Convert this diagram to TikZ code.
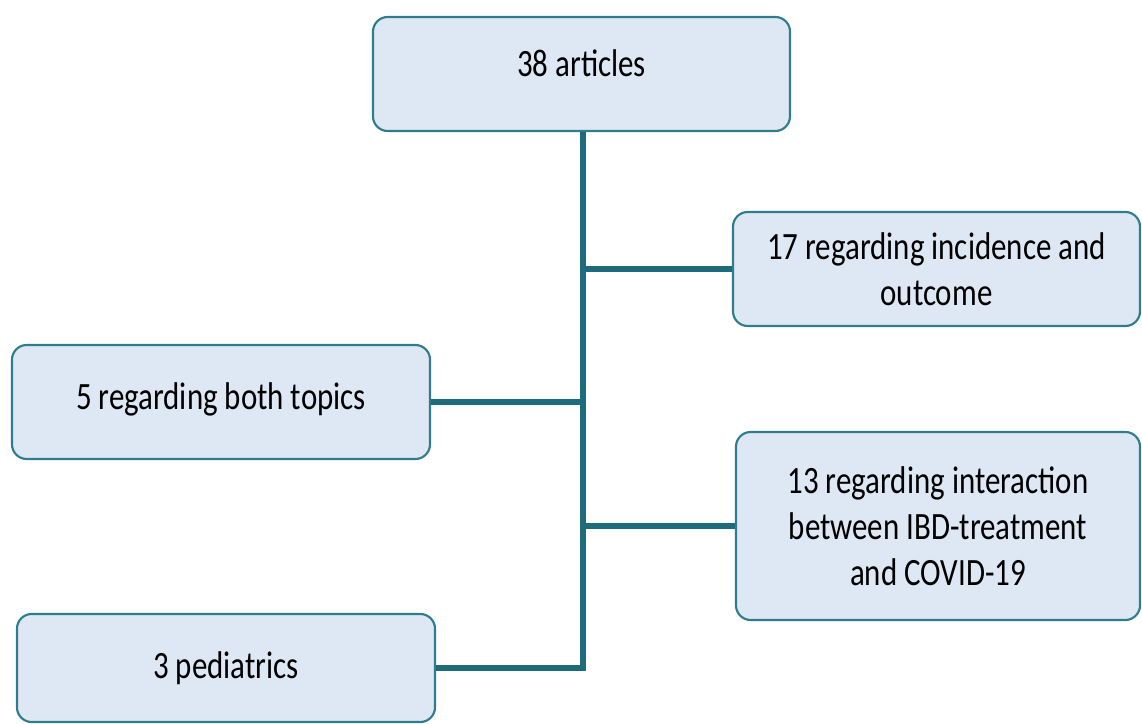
\documentclass[tikz,border=0pt]{standalone}
\usepackage{fontspec}
\setmainfont[FakeStretch=0.8]{Carlito}
\definecolor{boxfill}{HTML}{DDE8F4}
\definecolor{boxline}{HTML}{2F7D8C}
\definecolor{conn}{HTML}{1E6B7B}
\begin{document}
\begin{tikzpicture}[x=0.75pt,y=-0.75pt,
  box/.style={draw=boxline, line width=1.6pt, fill=boxfill, rounded corners=11pt,
    align=center, font=\fontsize{29}{34.5}\selectfont, inner sep=0pt},
  link/.style={draw=conn, line width=4pt}]
\useasboundingbox (0,0) rectangle (1142,724);
\clip (0,0) rectangle (1142,724);
\node[box, minimum width=312.75pt, minimum height=85.5pt] (top) at (581.5,74) {\raisebox{16pt}{38 articles}};
\node[box, minimum width=305.25pt, minimum height=85.5pt] (r1) at (936.5,269) {17 regarding incidence and\\outcome};
\node[box, minimum width=313.5pt, minimum height=85.5pt] (l1) at (221,402) {\raisebox{9pt}{5 regarding both topics}};
\node[box, minimum width=303pt, minimum height=141pt] (r2) at (938,526) {13 regarding interaction\\between IBD-treatment\\and COVID-19};
\node[box, minimum width=313.5pt, minimum height=81pt] (b) at (226,668) {3 pediatrics};
\coordinate (spine) at (583,131);
\draw[link] (top.south -| spine) -- (b.east -| spine) -- (b.east);
\draw[link] (r1.west -| spine) -- (r1.west);
\draw[link] (l1.east) -- (l1.east -| spine);
\draw[link] (r2.west -| spine) -- (r2.west);
\end{tikzpicture}
\end{document}
